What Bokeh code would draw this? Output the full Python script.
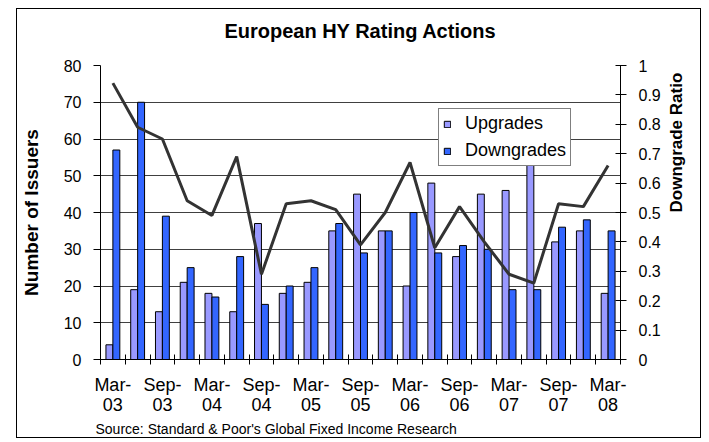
from bokeh.plotting import figure
from bokeh.models import Range1d, LinearAxis, FixedTicker, Title, CustomJSTickFormatter, ColumnDataSource
from bokeh.embed import file_html
from bokeh.resources import INLINE
import math

quarters = ["Mar-03", "Jun-03", "Sep-03", "Dec-03", "Mar-04", "Jun-04", "Sep-04", "Dec-04",
            "Mar-05", "Jun-05", "Sep-05", "Dec-05", "Mar-06", "Jun-06", "Sep-06", "Dec-06",
            "Mar-07", "Jun-07", "Sep-07", "Dec-07", "Mar-08"]
upgrades = [4, 19, 13, 21, 18, 13, 37, 18, 21, 35, 45, 35, 20, 48, 28, 45, 46, 54, 32, 35, 18]
downgrades = [57, 70, 39, 25, 17, 28, 15, 20, 25, 37, 29, 35, 40, 29, 31, 30, 19, 19, 36, 38, 35]
ratio = [0.94, 0.79, 0.75, 0.54, 0.49, 0.69, 0.29, 0.53, 0.54, 0.51, 0.39, 0.50, 0.67, 0.38,
         0.52, 0.40, 0.29, 0.26, 0.53, 0.52, 0.66]
left_ticks = [0, 10, 20, 30, 40, 50, 60, 70, 80]
right_ticks = [0, 0.1, 0.2, 0.3, 0.4, 0.5, 0.6, 0.7, 0.8, 0.9, 1]

FONT = "Liberation Sans"
n = len(quarters)
idx = list(range(n))

src = ColumnDataSource(dict(
    x_up=[i - 0.14 for i in idx],
    x_down=[i + 0.14 for i in idx],
    x=idx,
    up=upgrades,
    down=downgrades,
    ratio=ratio,
))

p = figure(width=685, height=430, output_backend="svg", toolbar_location=None,
           x_range=Range1d(-0.5, n - 0.5), y_range=Range1d(0, 80),
           min_border_left=82, min_border_right=82, min_border_top=56, min_border_bottom=80)
p.styles = {"border": "1px solid black", "margin-left": "16px", "margin-top": "8px"}
p.outline_line_color = None
p.background_fill_color = "white"
p.border_fill_color = "white"

p.title.text = "European HY Rating Actions\n"
p.title.align = "center"
p.title.text_font = FONT
p.title.text_font_size = "20px"
p.title.text_font_style = "bold"
p.title.text_color = "black"
p.title.standoff = 4

p.extra_y_ranges = {"ratio": Range1d(0, 1)}

p.vbar(x="x_up", top="up", width=0.28, source=src, fill_color="#9999FF",
       line_color="black", line_width=1, legend_label="Upgrades")
p.vbar(x="x_down", top="down", width=0.28, source=src, fill_color="#3366FF",
       line_color="black", line_width=1, legend_label="Downgrades")
p.line(x="x", y="ratio", source=src, y_range_name="ratio", line_color="#333333", line_width=3)

# x axis
xlabels = {i: q.replace("-", "-\n") for i, q in enumerate(quarters) if i % 2 == 0}
xa = p.xaxis[0]
xa.ticker = FixedTicker(ticks=list(xlabels.keys()), minor_ticks=[i - 0.5 for i in range(n + 1)])
xa.major_label_overrides = xlabels
xa.major_tick_in = 0
xa.major_tick_out = 0
xa.minor_tick_in = 5
xa.minor_tick_out = 5
xa.minor_tick_line_color = "black"
xa.axis_line_color = "black"
xa.major_label_standoff = 10
xa.major_label_text_font = FONT
xa.major_label_text_font_size = "18px"
xa.major_label_text_line_height = 1.0
xa.major_label_text_color = "black"

# left axis
ya = p.yaxis[0]
ya.ticker = FixedTicker(ticks=left_ticks)
ya.major_tick_in = 0
ya.major_tick_out = 7
ya.minor_tick_out = 0
ya.minor_tick_in = 0
ya.major_label_standoff = 12
ya.major_label_text_font = FONT
ya.major_label_text_font_size = "16px"
ya.major_label_text_color = "black"
ya.axis_label = "Number of Issuers"
ya.axis_label_text_font = FONT
ya.axis_label_text_font_size = "19px"
ya.axis_label_text_font_style = "bold"
ya.axis_label_text_color = "black"
ya.axis_label_standoff = 19

# right axis
ra = LinearAxis(y_range_name="ratio", ticker=FixedTicker(ticks=right_ticks),
                formatter=CustomJSTickFormatter(code="return String(Number(tick.toFixed(1)));"))
ra.major_tick_in = 5
ra.major_tick_out = 6
ra.minor_tick_in = 0
ra.minor_tick_out = 0
ra.major_label_standoff = 12
ra.major_label_text_font = FONT
ra.major_label_text_font_size = "16px"
ra.major_label_text_color = "black"
ra.axis_label = "Downgrade Ratio"
ra.axis_label_text_font = FONT
ra.axis_label_text_font_size = "17px"
ra.axis_label_text_font_style = "bold"
ra.axis_label_text_color = "black"
ra.axis_label_text_align = "center"
ra.axis_label_standoff = 13
if "axis_label_orientation" in ra.properties():
    ra.axis_label_orientation = math.pi / 2
p.add_layout(ra, "right")

p.xgrid.visible = False
p.ygrid.ticker = FixedTicker(ticks=left_ticks)
p.ygrid.grid_line_color = "#404040"
p.ygrid.grid_line_width = 1

src_title = Title(text="Source: Standard & Poor's Global Fixed Income Research", align="left",
                  text_font=FONT, text_font_size="14px", text_font_style="normal",
                  text_color="black", offset=-5, standoff=2)
p.add_layout(src_title, "below")

lg = p.legend[0]
lg.location = (338, 193)
lg.label_text_font = FONT
lg.label_text_font_size = "18px"
lg.label_text_color = "black"
lg.glyph_width = 8
lg.glyph_height = 8
lg.label_standoff = 14
lg.label_height = 20
lg.spacing = 6
lg.padding = 4
lg.margin = 0
lg.border_line_color = "black"
lg.border_line_width = 1
lg.background_fill_color = "white"
lg.background_fill_alpha = 1

open("out.html", "w").write(file_html(p, INLINE))
